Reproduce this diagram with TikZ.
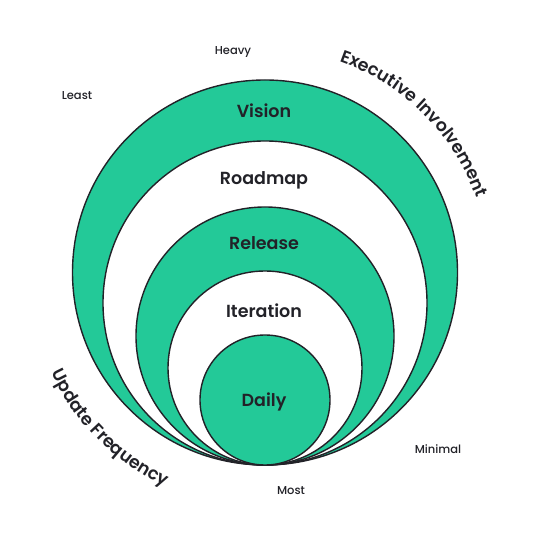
\documentclass[tikz,border=0pt]{standalone}
\usepackage{fontspec}
\setmainfont{Poppins}
\newfontfamily\medfont{Poppins Medium}
\newfontfamily\semifont{Poppins SemiBold}
\usetikzlibrary{decorations.text}
\definecolor{ringgreen}{HTML}{23C998}
\definecolor{inkdark}{HTML}{222228}
\tikzset{
  ring/.style={draw=inkdark, line width=1.4pt},
  greenring/.style={ring, fill=ringgreen},
  whitering/.style={ring, fill=white},
  lvl/.style={text=inkdark, font=\semifont\fontsize{17.5}{20}\selectfont, anchor=base, inner sep=0pt},
  tag/.style={text=inkdark, font=\medfont\fontsize{11.5}{13}\selectfont, anchor=base, inner sep=0pt},
}
\begin{document}
\begin{tikzpicture}[x=1pt,y=1pt]
\useasboundingbox[fill=white] (0,0) rectangle (540,540);
\coordinate (T) at (265,75);
\coordinate (C) at (265,267.5);
% nested circles tangent at T
\draw[greenring] (265,267.5) circle[radius=192.5];
\draw[whitering] (265,237) circle[radius=162];
\draw[greenring] (265,204) circle[radius=129];
\draw[whitering] (265,172) circle[radius=97];
\draw[greenring] (265,140) circle[radius=65];
% level labels
\node[lvl] (vision) at (264,422) {Vision};
\node[lvl] (roadmap) at (264,355) {Roadmap};
\node[lvl] (release) at (264,290) {Release};
\node[lvl] (iteration) at (264,222) {Iteration};
\node[lvl] (daily) at (264,133) {Daily};
% small tags
\node[tag] (heavy) at (233,485) {Heavy};
\node[tag] (least) at (77,440) {Least};
\node[tag] (minimal) at (438,86) {Minimal};
\node[tag] (most) at (291,45) {Most};
% curved axis titles
\path[decorate, decoration={text along path, text align=center,
   text={|\color{inkdark}\semifont\fontsize{17.5}{20}\selectfont|Executive Involvement}}]
  (C) ++(90:224) arc[start angle=90, end angle=0, radius=224];
\path[decorate, decoration={text along path, text align=center,
   text={|\color{inkdark}\semifont\fontsize{17.5}{20}\selectfont|Update Frequency}}]
  (C) ++(180:236) arc[start angle=180, end angle=270, radius=236];
\end{tikzpicture}
\end{document}
